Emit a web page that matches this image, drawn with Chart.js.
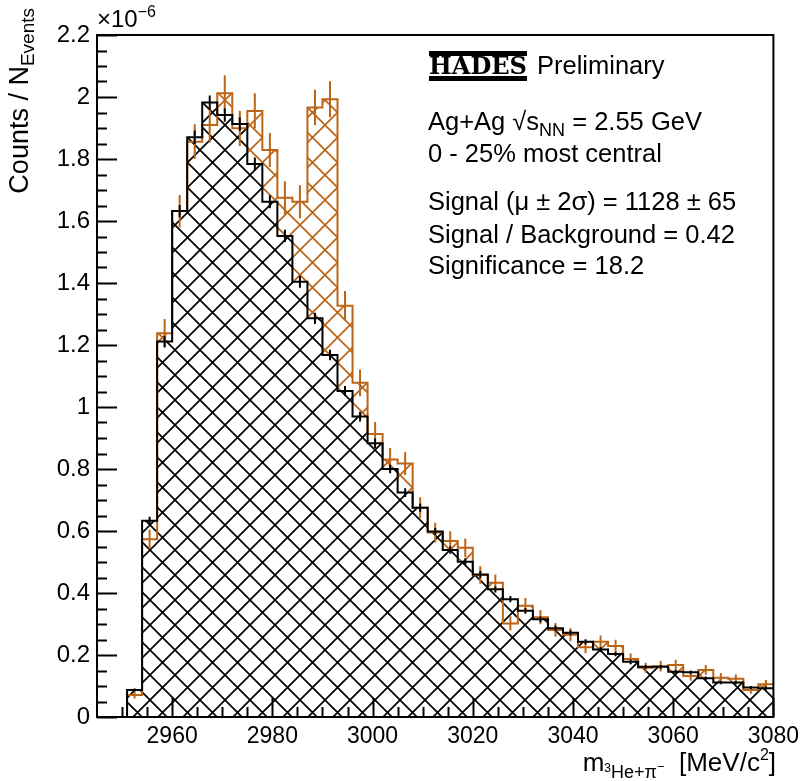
<!DOCTYPE html>
<html>
<head>
<meta charset="utf-8">
<title>3He pi- invariant mass</title>
<script src="https://cdn.jsdelivr.net/npm/chart.js@4.4.1/dist/chart.umd.min.js"></script>
<style>
  html, body { margin: 0; padding: 0; background: #fff; }
  #wrap { width: 805px; height: 781px; }
</style>
</head>
<body>
<div id="wrap"><canvas id="massChart" width="805" height="781"></canvas></div>
<script>
// Bin edges of the invariant mass histogram [MeV/c^2], 3 MeV bins
const binEdges = [2945, 2948, 2951, 2954, 2957, 2960, 2963, 2966, 2969, 2972, 2975, 2978,
  2981, 2984, 2987, 2990, 2993, 2996, 2999, 3002, 3005, 3008, 3011, 3014, 3017, 3020,
  3023, 3026, 3029, 3032, 3035, 3038, 3041, 3044, 3047, 3050, 3053, 3056, 3059, 3062,
  3065, 3068, 3071, 3074, 3077, 3080];

// Same-event spectrum (signal + background), counts / N_events in units of 1e-6
const totalCounts = [0, 0, 0.071, 0.573, 1.238, 1.632, 1.856, 1.910, 2.012, 1.899,
  1.955, 1.829, 1.675, 1.662, 1.966, 1.993, 1.327, 1.078, 0.913, 0.831,
  0.818, 0.675, 0.595, 0.568, 0.546, 0.458, 0.433, 0.302, 0.359, 0.322,
  0.281, 0.265, 0.225, 0.243, 0.229, 0.187, 0.159, 0.164, 0.168, 0.132,
  0.152, 0.127, 0.123, 0.087, 0.106];
const totalErr = [0, 0, 0.011, 0.031, 0.046, 0.052, 0.056, 0.057, 0.058, 0.057,
  0.057, 0.055, 0.053, 0.053, 0.057, 0.058, 0.047, 0.043, 0.039, 0.037,
  0.037, 0.034, 0.032, 0.031, 0.030, 0.028, 0.027, 0.023, 0.025, 0.023,
  0.022, 0.021, 0.019, 0.020, 0.020, 0.018, 0.016, 0.017, 0.017, 0.015,
  0.016, 0.015, 0.014, 0.012, 0.013];

// Combinatorial background (mixed events)
const bkgCounts = [0, 0, 0.087, 0.633, 1.211, 1.632, 1.870, 1.982, 1.942, 1.913,
  1.784, 1.662, 1.552, 1.404, 1.286, 1.168, 1.052, 0.969, 0.883, 0.800,
  0.724, 0.675, 0.598, 0.539, 0.501, 0.460, 0.412, 0.380, 0.343, 0.315,
  0.286, 0.272, 0.243, 0.218, 0.203, 0.178, 0.162, 0.162, 0.146, 0.144,
  0.125, 0.111, 0.111, 0.095, 0.093];
const bkgErr = [0, 0, 0.005, 0.013, 0.018, 0.020, 0.022, 0.023, 0.022, 0.022,
  0.021, 0.021, 0.020, 0.019, 0.018, 0.017, 0.016, 0.016, 0.015, 0.014,
  0.014, 0.013, 0.012, 0.012, 0.011, 0.011, 0.010, 0.010, 0.009, 0.009,
  0.009, 0.008, 0.008, 0.008, 0.007, 0.007, 0.006, 0.006, 0.006, 0.006,
  0.006, 0.005, 0.005, 0.005, 0.005];

// Fit results shown in the text box
const signalYield = 1128;
const signalYieldErr = 65;
const signalToBkg = 0.42;
const significance = 18.2;

const xMin = 2945, xMax = 3080;
const yMin = 0, yMax = 2.2;

const FONT = '"Liberation Sans", Arial, Helvetica, sans-serif';
const ORANGE = '#bd6516';
const TXT = 25.5;

// Histogram as stepped line: one point per left edge plus the last right edge
function toSteps(values) {
  const pts = values.map((v, i) => ({ x: binEdges[i], y: v }));
  pts.push({ x: binEdges[binEdges.length - 1], y: values[values.length - 1] });
  return pts;
}

// Cross-hatch fill pattern
function makeHatch(color, bg) {
  const size = 25;
  const c = document.createElement('canvas');
  c.width = size;
  c.height = size;
  const g = c.getContext('2d');
  if (bg) {
    g.fillStyle = bg;
    g.fillRect(0, 0, size, size);
  }
  g.strokeStyle = color;
  g.lineWidth = 1.7;
  g.beginPath();
  for (const off of [-size, 0, size]) {
    g.moveTo(off, 0); g.lineTo(off + size, size);
    g.moveTo(off + size, 0); g.lineTo(off, size);
  }
  g.stroke();
  return g.createPattern(c, 'repeat');
}

// Draws a run of text pieces (sub/superscripts) starting at x
function drawRich(ctx, parts, x, y) {
  for (const p of parts) {
    ctx.font = p.size + 'px ' + FONT;
    ctx.fillText(p.t, x, y + (p.dy || 0));
    x += ctx.measureText(p.t).width;
  }
  return x;
}
function richWidth(ctx, parts) {
  let w = 0;
  for (const p of parts) {
    ctx.font = p.size + 'px ' + FONT;
    w += ctx.measureText(p.t).width;
  }
  return w;
}

function drawErrors(ctx, xs, ys, values, errs, color) {
  ctx.save();
  ctx.strokeStyle = color;
  ctx.lineWidth = 2;
  ctx.beginPath();
  values.forEach((v, i) => {
    if (v <= 0) return;
    const cx = xs.getPixelForValue((binEdges[i] + binEdges[i + 1]) / 2);
    ctx.moveTo(cx, ys.getPixelForValue(v - errs[i]));
    ctx.lineTo(cx, ys.getPixelForValue(v + errs[i]));
  });
  ctx.stroke();
  ctx.restore();
}

// Frame, inward ticks, error bars and all the labels
const decorPlugin = {
  id: 'decor',
  afterDatasetsDraw(chart) {
    const ctx = chart.ctx;
    const area = chart.chartArea;
    const xs = chart.scales.x;
    const ys = chart.scales.y;

    ctx.save();
    ctx.beginPath();
    ctx.rect(area.left, area.top, area.right - area.left, area.bottom - area.top);
    ctx.clip();
    drawErrors(ctx, xs, ys, totalCounts, totalErr, ORANGE);
    drawErrors(ctx, xs, ys, bkgCounts, bkgErr, '#000');
    ctx.restore();

    ctx.save();
    ctx.strokeStyle = '#000';
    ctx.lineWidth = 2;
    ctx.strokeRect(area.left, area.top, area.right - area.left, area.bottom - area.top);

    // y ticks: major every 0.2, minor every 0.05
    ctx.beginPath();
    for (let k = 0; k <= 44; k++) {
      const v = k * 0.05;
      const py = Math.round(ys.getPixelForValue(v)) + 0.5;
      const len = k % 4 === 0 ? 20 : 10;
      ctx.moveTo(area.left, py);
      ctx.lineTo(area.left + len, py);
    }
    // x ticks: major every 20, minor every 5
    for (let v = 2950; v <= xMax; v += 5) {
      const px = Math.round(xs.getPixelForValue(v)) + 0.5;
      const len = v % 20 === 0 ? 19 : 10;
      ctx.moveTo(px, area.bottom);
      ctx.lineTo(px, area.bottom - len);
    }
    ctx.stroke();
    ctx.restore();

    ctx.save();
    ctx.fillStyle = '#000';
    ctx.textBaseline = 'alphabetic';
    ctx.textAlign = 'left';

    // x10^-6 exponent label
    drawRich(ctx, [
      { t: '\u00d710', size: 24 },
      { t: '\u22126', size: 16, dy: -10 }
    ], area.left, 27);

    // y axis title, rotated, aligned to the top
    const yTitle = [
      { t: 'Counts / N', size: 27 },
      { t: 'Events', size: 19, dy: 6 }
    ];
    const wy = richWidth(ctx, yTitle);
    ctx.save();
    ctx.translate(28, 8);
    ctx.rotate(-Math.PI / 2);
    drawRich(ctx, yTitle, -wy, 0);
    ctx.restore();

    // x axis title, right aligned
    const xTitle = [
      { t: 'm', size: 26 },
      { t: '3', size: 12, dy: 1 },
      { t: 'He+\u03c0', size: 18, dy: 7 },
      { t: '\u2212', size: 13, dy: 0 },
      { t: '  [MeV/c', size: 26 },
      { t: '2', size: 16, dy: -11 },
      { t: ']', size: 26 }
    ];
    const wx = richWidth(ctx, xTitle);
    drawRich(ctx, xTitle, 776 - wx, 771);

    // HADES logo: bold letters between two bars
    ctx.fillRect(429, 51, 98, 5);
    ctx.fillRect(429, 76, 98, 5);
    ctx.save();
    ctx.font = 'bold 25px "DejaVu Serif", serif';
    const lw = ctx.measureText('HADES').width;
    ctx.translate(429, 74);
    ctx.scale(98 / lw, 1);
    ctx.fillText('HADES', 0, 0);
    ctx.restore();

    ctx.font = TXT + 'px ' + FONT;
    ctx.fillText('Preliminary', 537, 74);

    const tx = 428;
    drawRich(ctx, [
      { t: 'Ag+Ag ', size: TXT },
      { t: '\u221a', size: TXT },
      { t: 's', size: TXT },
      { t: 'NN', size: 18, dy: 6 },
      { t: ' = 2.55 GeV', size: TXT }
    ], tx, 130);
    ctx.font = TXT + 'px ' + FONT;
    ctx.fillText('0 - 25% most central', tx, 162);
    ctx.fillText('Signal (\u03bc \u00b1 2\u03c3) = ' + signalYield + ' \u00b1 ' + signalYieldErr, tx, 210);
    ctx.fillText('Signal / Background = ' + signalToBkg.toFixed(2), tx, 243);
    ctx.fillText('Significance = ' + significance.toFixed(1), tx, 274);
    ctx.restore();
  }
};

const orangeHatch = makeHatch(ORANGE, null);
const blackHatch = makeHatch('#000', '#fff');
const ctx = document.getElementById('massChart').getContext('2d');

const massChart = new Chart(ctx, {
  type: 'line',
  data: {
    datasets: [
      { label: 'total fill', data: toSteps(totalCounts), stepped: true, fill: 'origin',
        backgroundColor: orangeHatch, borderColor: 'rgba(0,0,0,0)', borderWidth: 1,
        pointRadius: 0, order: 4 },
      { label: 'background fill', data: toSteps(bkgCounts), stepped: true, fill: 'origin',
        backgroundColor: blackHatch, borderColor: 'rgba(0,0,0,0)', borderWidth: 1,
        pointRadius: 0, order: 3 },
      { label: 'total', data: toSteps(totalCounts), stepped: true, fill: false,
        borderColor: ORANGE, borderWidth: 2, pointRadius: 0, order: 2 },
      { label: 'background', data: toSteps(bkgCounts), stepped: true, fill: false,
        borderColor: '#000', borderWidth: 2, pointRadius: 0, order: 1 }
    ]
  },
  options: {
    responsive: false,
    animation: false,
    devicePixelRatio: 1,
    layout: { padding: { top: 35, right: 28, left: 0, bottom: 0 } },
    plugins: {
      legend: { display: false },
      tooltip: { enabled: false }
    },
    scales: {
      x: {
        type: 'linear',
        min: xMin,
        max: xMax,
        grid: { display: false, drawTicks: false },
        border: { display: false },
        ticks: {
          stepSize: 20,
          includeBounds: false,
          autoSkip: false,
          maxRotation: 0,
          padding: 6,
          color: '#000',
          font: { family: FONT, size: 23 },
          callback: v => String(v)
        },
        afterFit: s => { s.height = 64; }
      },
      y: {
        min: yMin,
        max: yMax,
        grid: { display: false, drawTicks: false },
        border: { display: false },
        ticks: {
          stepSize: 0.2,
          padding: 7,
          color: '#000',
          font: { family: FONT, size: 24 },
          callback: v => String(Math.round(v * 10) / 10)
        },
        afterFit: s => { s.width = 97; }
      }
    }
  },
  plugins: [decorPlugin]
});
</script>
</body>
</html>
